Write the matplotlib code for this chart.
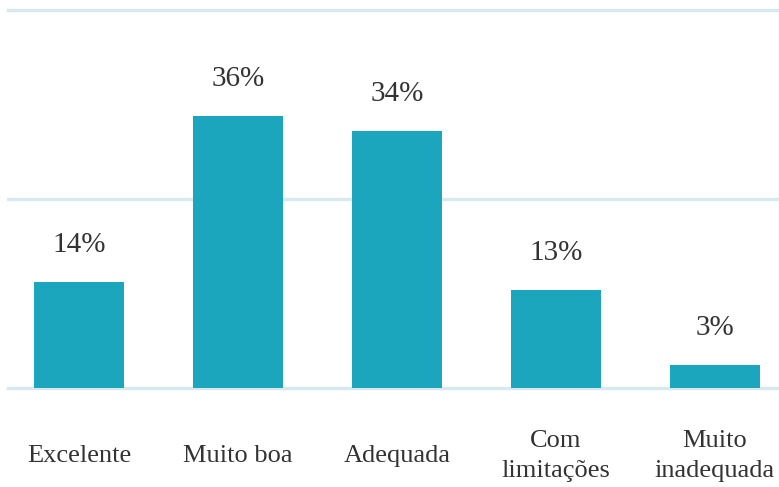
import matplotlib
matplotlib.use("Agg")
import matplotlib.pyplot as plt
from matplotlib.transforms import offset_copy

categories = ["Excelente", "Muito boa", "Adequada", "Com\nlimitações", "Muito\ninadequada"]
values = [14, 36, 34, 13, 3]
labels = ["14%", "36%", "34%", "13%", "3%"]

plt.rcParams['font.family'] = ['Liberation Serif', 'DejaVu Serif']

fig = plt.figure(figsize=(7.79, 4.87), dpi=100)
ax = fig.add_axes([8/779, (487-388)/487, 1 - 8/779, (388-10)/487])

x = list(range(len(categories)))
ax.bar(x, values, width=0.566, color="#1ba6bd", zorder=3)
ax.set_xlim(-0.447, 4.403)
ax.set_ylim(0, 50)
for yv in [0, 25, 50]:
    ax.axhline(yv, color="#d6e9f0", lw=2.4, zorder=1, clip_on=False)

for s in ax.spines.values():
    s.set_visible(False)
ax.set_xticks([])
ax.set_yticks([])

for xi, v, lab in zip(x, values, labels):
    tr = offset_copy(ax.transData, fig=fig, x=0, y=30*72/100, units='points')
    ax.text(xi, v, lab, transform=tr, ha='center', va='baseline',
            fontsize=21, color="#333333")

for xi, c in zip(x, categories):
    tr = offset_copy(ax.transData, fig=fig, x=0, y=-68*72/100, units='points')
    ax.text(xi, 0, c, transform=tr, ha='center', va='center',
            fontsize=19, color="#333333", linespacing=1.45, multialignment='center')

fig.savefig("out.png", dpi=100)
